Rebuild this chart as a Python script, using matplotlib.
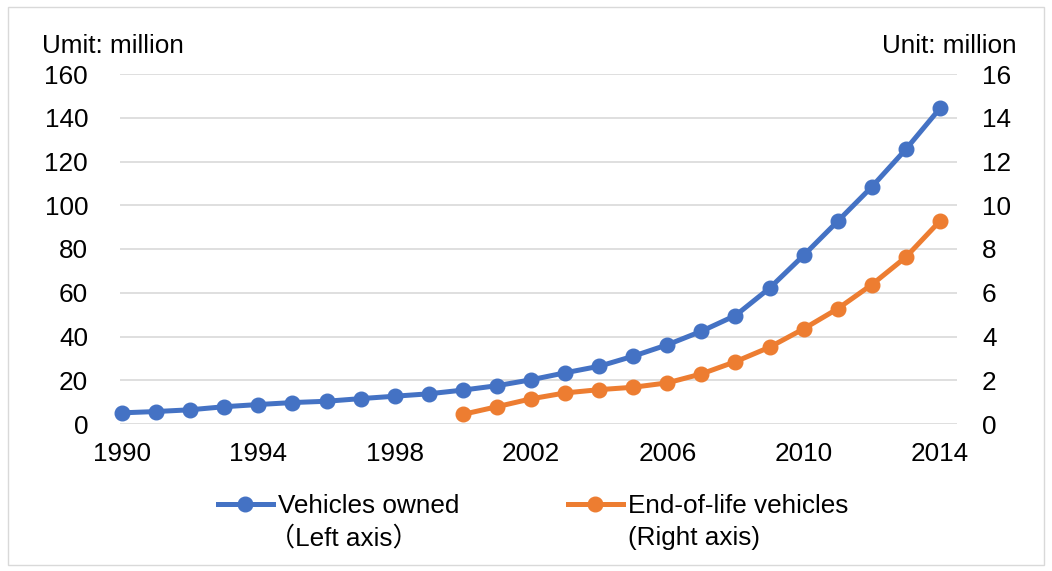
import matplotlib.pyplot as plt
from matplotlib.patches import Rectangle

plt.rcParams['font.family'] = ['Liberation Sans', 'Noto Sans CJK JP']

years = list(range(1990, 2015))
# Vehicles owned, million (left axis)
owned = [5.1, 5.7, 6.5, 7.9, 8.9, 9.8, 10.4, 11.6, 12.7, 13.8, 15.5, 17.5, 20.2,
         23.4, 26.4, 31.0, 36.2, 42.4, 49.6, 62.1, 77.1, 92.7, 108.4, 125.6, 144.3]
# End-of-life vehicles, million (right axis), from 2000
eol_years = list(range(2000, 2015))
eol = [0.44, 0.79, 1.15, 1.42, 1.57, 1.68, 1.88, 2.29, 2.85, 3.51, 4.35, 5.27,
       6.37, 7.63, 9.28]

blue = '#4472C4'
orange = '#ED7D31'
fs = 18.8
W, H = 1052, 571

fig = plt.figure(figsize=(W / 100, H / 100), dpi=100)
fig.patches.append(Rectangle((8 / W, 6 / H), 1036 / W, 558 / H,
                             transform=fig.transFigure, fill=False,
                             edgecolor='#d9d9d9', linewidth=1))
ax = fig.add_axes([120 / W, 1 - 424 / H, 837 / W, 350 / H])
ax2 = ax.twinx()

l1, = ax.plot(years, owned, color=blue, lw=3.6, marker='o', markersize=10.5,
              label='Vehicles owned', zorder=3, clip_on=False)
l2, = ax2.plot(eol_years, eol, color=orange, lw=3.6, marker='o', markersize=10.5,
               label='End-of-life vehicles', zorder=3, clip_on=False)

ax.set_ylim(0, 160)
ax.set_yticks(range(0, 161, 20))
ax2.set_ylim(0, 16)
ax2.set_yticks(range(0, 17, 2))
ax.set_xlim(1989.94, 2014.5)
ax.set_xticks(range(1990, 2015, 4))
ax.grid(axis='y', color='#d9d9d9', lw=1.2)
ax.set_axisbelow(True)
for a in (ax, ax2):
    for s in a.spines.values():
        s.set_visible(False)
    a.tick_params(length=0, labelsize=fs)
ax.tick_params(axis='x', pad=13)
ax.tick_params(axis='y', pad=23)
ax2.tick_params(axis='y', pad=18)

fig.text(42 / W, 1 - 46 / H, 'Umit: million', fontsize=fs, va='center', ha='left')
fig.text(1017 / W, 1 - 46 / H, 'Unit: million', fontsize=fs, va='center', ha='right')

legs = []
for h, x0 in zip([l1, l2], [218, 568]):
    lg = fig.legend(handles=[h], loc='center left', frameon=False,
                    bbox_to_anchor=(x0 / W, 1 - 506 / H), fontsize=fs,
                    handlelength=2.1, handletextpad=0.2, borderpad=0,
                    borderaxespad=0)
    legs.append(lg)

fig.canvas.draw()
seconds = ['（Left axis）', '(Right axis)']
offsets = [-9, 0]
for lg, s, dx in zip(legs, seconds, offsets):
    bb = lg.get_texts()[0].get_window_extent()
    fig.text((bb.x0 + dx) / W, 1 - 538 / H, s, fontsize=fs, va='center', ha='left')

fig.savefig('out.png', dpi=100)
